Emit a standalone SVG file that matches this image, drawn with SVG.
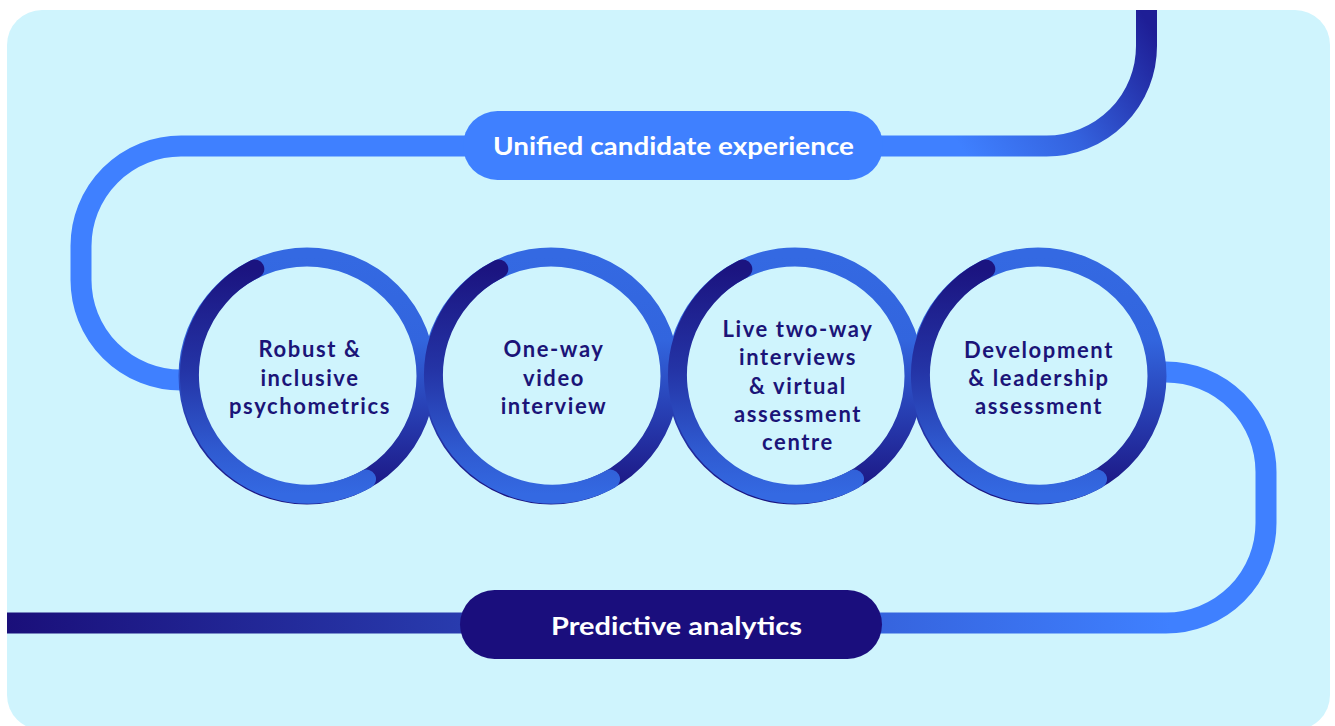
<svg xmlns="http://www.w3.org/2000/svg" width="1335" height="726" viewBox="0 0 1335 726">
  <defs>
    <linearGradient id="gTop" gradientUnits="userSpaceOnUse" x1="960" y1="146" x2="1146" y2="20">
      <stop offset="0" stop-color="#3F80FF"/>
      <stop offset="0.45" stop-color="#3462DE"/>
      <stop offset="1" stop-color="#1E1E96"/>
    </linearGradient>
    <linearGradient id="gBottom" gradientUnits="userSpaceOnUse" x1="7" y1="0" x2="1170" y2="0">
      <stop offset="0" stop-color="#1A0F7A"/>
      <stop offset="1" stop-color="#3F80FF"/>
    </linearGradient>
    <linearGradient id="gRing" x1="0" y1="0" x2="0" y2="1">
      <stop offset="0" stop-color="#3469E2"/>
      <stop offset="0.35" stop-color="#3265DE"/>
      <stop offset="0.72" stop-color="#2536A9"/>
      <stop offset="1" stop-color="#1B1480"/>
    </linearGradient>
    <linearGradient id="gArc" x1="0" y1="0" x2="0" y2="1">
      <stop offset="0" stop-color="#1B1480"/>
      <stop offset="0.45" stop-color="#2434A6"/>
      <stop offset="0.8" stop-color="#2F5AD0"/>
      <stop offset="1" stop-color="#3469E2"/>
    </linearGradient>
  </defs>
  <style>
    .card { fill: #CFF4FD; }
    .line { fill: none; stroke-width: 21; }
    .ring { fill: none; stroke: url(#gRing); stroke-width: 19; }
    .arc { fill: none; stroke: url(#gArc); stroke-width: 19; stroke-linecap: round; }
    .ctext { font-family: "Lato", "Liberation Sans", sans-serif; font-weight: 700; font-size: 22px; letter-spacing: 1.6px; fill: #1B1478; text-anchor: middle; }
    .ptext { font-family: "Lato", "Liberation Sans", sans-serif; font-weight: 700; font-size: 25px; fill: #FFFFFF; text-anchor: middle; }
  </style>

  <rect class="card" x="7" y="10" width="1323" height="720" rx="35" ry="35"/>

  <g id="connectors">
    <path class="line" stroke="url(#gTop)" d="M1146.5,10 V46 A100,100 0 0 1 1046.5,146 H181 A100,100 0 0 0 81,246 V280 A100,100 0 0 0 181,380 H190"/>
    <path class="line" stroke="url(#gBottom)" d="M1155,372 H1166 A100,100 0 0 1 1266,472 V523 A100,100 0 0 1 1166,623 H7"/>
  </g>

  <g id="unified-candidate-experience">
    <rect x="463" y="111" width="420" height="69" rx="34.5" fill="#3F80FF"/>
    <text class="ptext" x="673.5" y="155" textLength="361" lengthAdjust="spacingAndGlyphs">Unified candidate experience</text>
  </g>

  <g id="predictive-analytics">
    <rect x="460" y="590" width="422" height="69" rx="34.5" fill="#1A0E7D"/>
    <text class="ptext" x="676.5" y="635" textLength="251" lengthAdjust="spacingAndGlyphs">Predictive analytics</text>
  </g>

  <g id="psychometrics">
    <circle class="ring" cx="307" cy="376" r="119"/>
    <path class="arc" d="M254.8,269 A119,119 0 1 0 366.5,479.1"/>
    <text class="ctext" x="310" y="357">Robust &amp;</text>
    <text class="ctext" x="310" y="386">inclusive</text>
    <text class="ctext" x="310" y="414">psychometrics</text>
  </g>

  <g id="one-way-video">
    <circle class="ring" cx="551" cy="376" r="119"/>
    <path class="arc" d="M498.8,269 A119,119 0 1 0 610.5,479.1"/>
    <text class="ctext" x="554" y="357">One-way</text>
    <text class="ctext" x="554" y="386">video</text>
    <text class="ctext" x="554" y="414">interview</text>
  </g>

  <g id="live-two-way">
    <circle class="ring" cx="795" cy="376" r="119"/>
    <path class="arc" d="M742.8,269 A119,119 0 1 0 854.5,479.1"/>
    <text class="ctext" x="798" y="337">Live two-way</text>
    <text class="ctext" x="798" y="365">interviews</text>
    <text class="ctext" x="798" y="394">&amp; virtual</text>
    <text class="ctext" x="798" y="422">assessment</text>
    <text class="ctext" x="798" y="450">centre</text>
  </g>

  <g id="development-leadership">
    <circle class="ring" cx="1038" cy="376" r="119"/>
    <path class="arc" d="M985.8,269 A119,119 0 1 0 1097.5,479.1"/>
    <text class="ctext" x="1039" y="358">Development</text>
    <text class="ctext" x="1039" y="386">&amp; leadership</text>
    <text class="ctext" x="1039" y="414">assessment</text>
  </g>
</svg>
